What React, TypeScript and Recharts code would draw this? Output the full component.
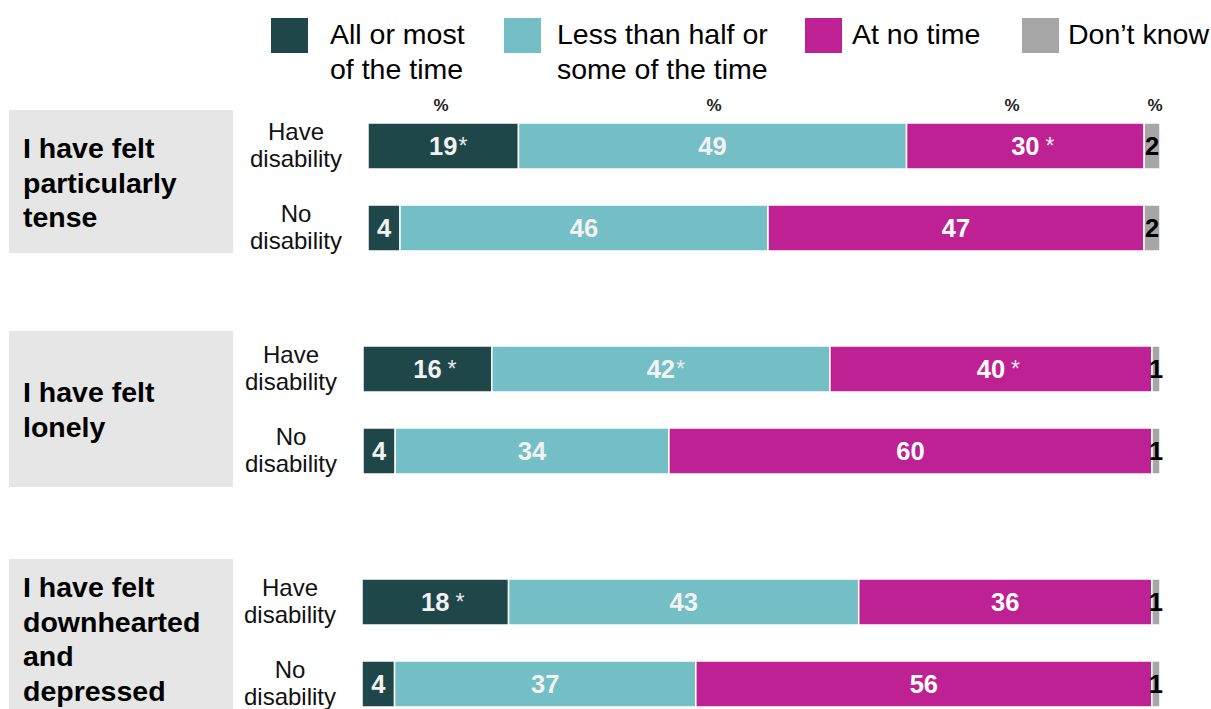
import React from "react";
import { BarChart, Bar, XAxis, YAxis, LabelList } from "recharts";

// ---- data ----
const groupLabels = [
  ["I have felt", "particularly", "tense"],
  ["I have felt", "lonely"],
  ["I have felt", "downhearted", "and", "depressed"],
];
const rowLabels = ["Have disability", "No disability"];

const seriesNames = [
  ["All or most", "of the time"],
  ["Less than half or", "some of the time"],
  ["At no time"],
  ["Don\u2019t know"],
];
const seriesColors = ["#1F474A", "#73BFC5", "#BE2193", "#A6A6A6"];

// rows in order: tense (have, no), lonely (have, no), downhearted (have, no)
const allOrMost = [19, 4, 16, 4, 18, 4];
const lessThanHalf = [49, 46, 42, 34, 43, 37];
const atNoTime = [30, 47, 40, 60, 36, 56];
const dontKnow = [2, 2, 1, 1, 1, 1];

// significance markers printed after the value
const allOrMostSig = ["*", "", " *", "", " *", ""];
const lessThanHalfSig = ["", "", "*", "", "", ""];
const atNoTimeSig = [" *", "", " *", "", "", ""];

const percentHeaderX = [441, 714, 1012, 1155];

// ---- layout ----
const FONT = '"Liberation Sans", Arial, Helvetica, sans-serif';
const CHART_LEFT = 236;
const BAR_RIGHT = 1160;
const RIGHT_PAD = 30;
const groupLayout = [
  { chartTop: 105, barLeft: 368, boxTop: 110, boxHeight: 143, textTop: 131 },
  { chartTop: 328, barLeft: 363, boxTop: 331, boxHeight: 156, textTop: 375 },
  { chartTop: 561, barLeft: 362, boxTop: 559, boxHeight: 200, textTop: 570 },
];

const groupData = groupLabels.map((_, g) =>
  rowLabels.map((row, r) => {
    const i = g * 2 + r;
    return {
      row,
      a: allOrMost[i],
      b: lessThanHalf[i],
      c: atNoTime[i],
      d: dontKnow[i],
      aLabel: `${allOrMost[i]}${allOrMostSig[i]}`,
      bLabel: `${lessThanHalf[i]}${lessThanHalfSig[i]}`,
      cLabel: `${atNoTime[i]}${atNoTimeSig[i]}`,
      dLabel: `${dontKnow[i]}`,
    };
  })
);

const segmentLabel = (fill: string) => (p: any) => {
  const vb = p.viewBox || {};
  const x = Number(p.x ?? vb.x);
  const y = Number(p.y ?? vb.y);
  const w = Number(p.width ?? vb.width);
  const h = Number(p.height ?? vb.height);
  const text = String(p.value ?? "");
  const m = text.match(/^(\d+)(\s?)(\*?)$/);
  const num = m ? m[1] : text;
  const space = m ? m[2] : "";
  const star = m ? m[3] : "";
  const cx = x + w / 2;
  const base = y + h / 2 + 9;
  const half = (num.length * 0.556 * 25.5) / 2;
  return (
    <g>
      <text x={cx} y={base} textAnchor="middle" fill={fill} fontSize={25.5} fontWeight={700} fontFamily={FONT}>
        {num}
      </text>
      {star ? (
        <text x={cx + half + (space ? 6 : 1)} y={base - 1} fill="#E8E8E8" fontSize={23} fontFamily={FONT}>
          *
        </text>
      ) : null}
    </g>
  );
};

const RowTick = (p: any) => {
  const { x, y, payload } = p;
  const words = String(payload?.value ?? "").split(" ");
  const cx = Number(x) - 72;
  return (
    <g>
      <text x={cx} y={Number(y) - 6} textAnchor="middle" fill="#111" fontSize={24} fontFamily={FONT}>
        {words[0]}
      </text>
      <text x={cx} y={Number(y) + 21} textAnchor="middle" fill="#111" fontSize={24} fontFamily={FONT}>
        {words.slice(1).join(" ")}
      </text>
    </g>
  );
};

function GroupChart({ g }: { g: number }) {
  const L = groupLayout[g];
  const data = groupData[g];
  return (
    <div style={{ position: "absolute", left: CHART_LEFT, top: L.chartTop }}>
      <BarChart
        layout="vertical"
        width={BAR_RIGHT - CHART_LEFT + RIGHT_PAD}
        height={164}
        data={data}
        stackOffset="expand"
        barSize={46}
        margin={{ top: 0, right: RIGHT_PAD, bottom: 0, left: 0 }}
      >
        <XAxis type="number" hide domain={[0, 1]} />
        <YAxis
          type="category"
          dataKey="row"
          width={L.barLeft - CHART_LEFT}
          axisLine={false}
          tickLine={false}
          tickSize={0}
          tickMargin={0}
          interval={0}
          tick={(p: any) => <RowTick {...p} />}
        />
        <Bar dataKey="a" stackId="s" fill={seriesColors[0]} stroke="#ffffff" strokeWidth={1.5} isAnimationActive={false}>
          <LabelList dataKey="aLabel" content={segmentLabel("#F2F2F2")} />
        </Bar>
        <Bar dataKey="b" stackId="s" fill={seriesColors[1]} stroke="#ffffff" strokeWidth={1.5} isAnimationActive={false}>
          <LabelList dataKey="bLabel" content={segmentLabel("#F2F2F2")} />
        </Bar>
        <Bar dataKey="c" stackId="s" fill={seriesColors[2]} stroke="#ffffff" strokeWidth={1.5} isAnimationActive={false}>
          <LabelList dataKey="cLabel" content={segmentLabel("#FFFFFF")} />
        </Bar>
        <Bar dataKey="d" stackId="s" fill={seriesColors[3]} stroke="#ffffff" strokeWidth={1.5} isAnimationActive={false}>
          <LabelList dataKey="dLabel" content={segmentLabel("#000000")} />
        </Bar>
      </BarChart>
    </div>
  );
}

const legendSquareX = [271, 504, 805, 1022];
const legendTextX = [330, 557, 852, 1068];

export default function App() {
  return (
    <div
      style={{
        position: "absolute",
        left: 0,
        top: 0,
        width: 1211,
        height: 709,
        overflow: "hidden",
        background: "#ffffff",
        fontFamily: FONT,
        color: "#000",
      }}
    >
      {/* legend */}
      {seriesNames.map((lines, i) => (
        <React.Fragment key={`lg-${i}`}>
          <div
            style={{
              position: "absolute",
              left: legendSquareX[i],
              top: 18,
              width: 37,
              height: 35,
              background: seriesColors[i],
            }}
          />
          <div
            style={{
              position: "absolute",
              left: legendTextX[i],
              top: 17,
              fontSize: 28.5,
              lineHeight: "35px",
              whiteSpace: "nowrap",
            }}
          >
            {lines.map((t, k) => (
              <div key={k}>{t}</div>
            ))}
          </div>
        </React.Fragment>
      ))}

      {/* percent headers */}
      {percentHeaderX.map((cx, i) => (
        <div
          key={`pc-${i}`}
          style={{
            position: "absolute",
            left: cx - 20,
            width: 40,
            top: 96,
            textAlign: "center",
            fontSize: 17,
            fontWeight: 700,
            lineHeight: "20px",
            color: "#222",
          }}
        >
          %
        </div>
      ))}

      {/* group boxes */}
      {groupLabels.map((lines, g) => (
        <React.Fragment key={`gb-${g}`}>
          <div
            style={{
              position: "absolute",
              left: 9,
              top: groupLayout[g].boxTop,
              width: 224,
              height: groupLayout[g].boxHeight,
              background: "#E6E6E6",
            }}
          />
          <div
            style={{
              position: "absolute",
              left: 23,
              top: groupLayout[g].textTop,
              fontSize: 28.5,
              fontWeight: 700,
              lineHeight: "34.5px",
              whiteSpace: "nowrap",
            }}
          >
            {lines.map((t, k) => (
              <div key={k}>{t}</div>
            ))}
          </div>
        </React.Fragment>
      ))}

      {groupLabels.map((_, g) => (
        <GroupChart key={`gc-${g}`} g={g} />
      ))}
    </div>
  );
}
